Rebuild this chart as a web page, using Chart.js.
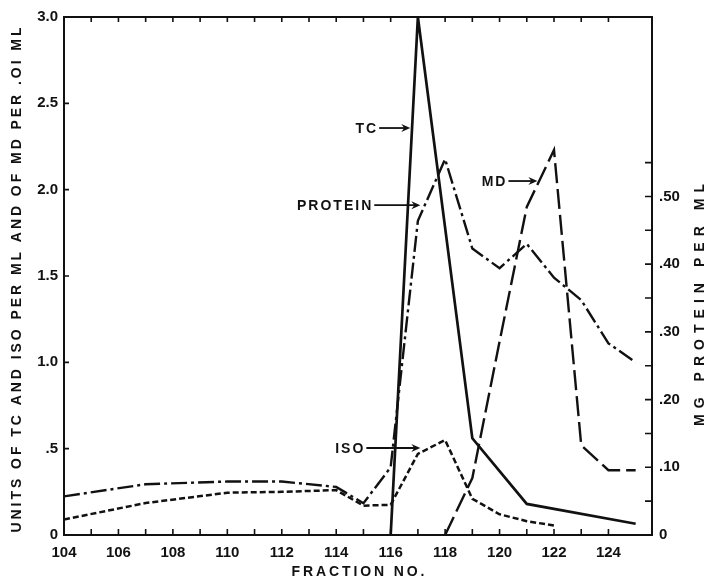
<!DOCTYPE html>
<html>
<head>
<meta charset="utf-8">
<script src="https://cdn.jsdelivr.net/npm/chart.js@4.4.0/dist/chart.umd.min.js"></script>
<style>
  html, body { margin: 0; padding: 0; background: #fff; }
  #wrap { width: 709px; height: 578px; }
</style>
</head>
<body>
<div id="wrap"><canvas id="fractionChart" width="709" height="578"></canvas></div>
<script>
// Values (fraction no. vs units / mg protein)
const tcFractions = [116, 117, 119, 121, 125]
const tcUnits = [0, 3.0, 0.56, 0.18, 0.065]

const isoFractions = [104, 107, 110, 112, 114, 115, 116, 117, 118, 119, 120, 121, 122]
const isoUnits = [0.09, 0.185, 0.245, 0.25, 0.26, 0.17, 0.175, 0.47, 0.55, 0.21, 0.12, 0.08, 0.055]

const mdFractions = [118, 119, 120, 121, 122, 123, 124, 125]
const mdUnits = [0, 0.33, 1.12, 1.9, 2.23, 0.52, 0.375, 0.375]

// protein is on the right hand axis (mg per ml)
const proteinFractions = [104, 107, 110, 112, 114, 115, 116, 117, 118, 119, 120, 121, 122, 123, 124, 125]
const proteinMg = [0.057, 0.075, 0.079, 0.079, 0.071, 0.047, 0.1, 0.464, 0.555, 0.423, 0.394, 0.43, 0.38, 0.347, 0.283, 0.255]

// tick labels
const xTickLabels = [104, 106, 108, 110, 112, 114, 116, 118, 120, 122, 124]
const leftTickValues = [0, 0.5, 1, 1.5, 2, 2.5, 3]
const leftTickLabels = ["0", ".5", "1.0", "1.5", "2.0", "2.5", "3.0"]
const rightTickValues = [0, 0.1, 0.2, 0.3, 0.4, 0.5]
const rightTickLabels = ["0", ".10", ".20", ".30", ".40", ".50"]

// labels with arrows pointing at the curves
const callouts = [
  { text: "TC", x: 115.54, y: 2.357, tip: 116.72 },
  { text: "PROTEIN", x: 115.36, y: 1.91, tip: 117.09 },
  { text: "MD", x: 120.29, y: 2.05, tip: 121.39 },
  { text: "ISO", x: 115.07, y: 0.504, tip: 117.09 },
]

const ink = "#111"
const fontFamily = "'Liberation Sans', Arial, sans-serif"

function toPoints(xs, ys) {
  return xs.map((x, i) => ({ x: x, y: ys[i] }))
}

function findLabel(values, labels, v) {
  const i = values.findIndex((t) => Math.abs(t - v) < 1e-6)
  return i >= 0 ? labels[i] : ""
}

// draw text stretched to a given width with letter spacing
function spacedText(ctx, text, cx, cy, width, angle) {
  ctx.save()
  ctx.translate(cx, cy)
  ctx.rotate(angle)
  ctx.letterSpacing = "0px"
  const w = ctx.measureText(text).width
  const gap = (width - w) / (text.length - 1)
  ctx.letterSpacing = gap + "px"
  ctx.textAlign = "left"
  ctx.textBaseline = "middle"
  ctx.fillText(text, -width / 2, 0)
  ctx.restore()
}

const framePlugin = {
  id: "frame",
  afterDraw(chart) {
    const { ctx, chartArea: a, scales } = chart
    ctx.save()
    ctx.strokeStyle = ink
    ctx.fillStyle = ink

    // box round the plot
    ctx.lineWidth = 2
    ctx.strokeRect(a.left, a.top, a.right - a.left, a.bottom - a.top)

    // inward tick marks
    ctx.lineWidth = 1.6
    ctx.beginPath()
    scales.x.ticks.forEach((t) => {
      if (!Number.isInteger(t.value)) return
      const px = scales.x.getPixelForValue(t.value)
      ctx.moveTo(px, a.bottom)
      ctx.lineTo(px, a.bottom - 6)
      ctx.moveTo(px, a.top)
      ctx.lineTo(px, a.top + 5)
    })
    scales.y.ticks.forEach((t) => {
      const py = scales.y.getPixelForValue(t.value)
      ctx.moveTo(a.left, py)
      ctx.lineTo(a.left + 5, py)
    })
    scales.y2.ticks.forEach((t) => {
      if (t.value > 0.551) return
      const py = scales.y2.getPixelForValue(t.value)
      ctx.moveTo(a.right, py)
      ctx.lineTo(a.right - 7, py)
    })
    ctx.stroke()

    // axis titles
    ctx.font = "bold 14px " + fontFamily
    spacedText(ctx, "UNITS OF TC AND ISO PER ML AND OF MD PER .OI ML", 17, 280, 505, -Math.PI / 2)
    spacedText(ctx, "MG PROTEIN PER ML", 700, 305, 242, -Math.PI / 2)
    spacedText(ctx, "FRACTION NO.", 358, 572, 133, 0)

    // callouts
    ctx.font = "bold 14px " + fontFamily
    ctx.letterSpacing = "2px"
    ctx.textAlign = "right"
    ctx.textBaseline = "middle"
    ctx.lineWidth = 1.8
    callouts.forEach((c) => {
      const tx = scales.x.getPixelForValue(c.x)
      const ty = scales.y.getPixelForValue(c.y)
      const tip = scales.x.getPixelForValue(c.tip)
      ctx.fillText(c.text, tx, ty + 1)
      ctx.beginPath()
      ctx.moveTo(tx + 1, ty)
      ctx.lineTo(tip - 3, ty)
      ctx.stroke()
      ctx.beginPath()
      ctx.moveTo(tip, ty)
      ctx.lineTo(tip - 9, ty - 4)
      ctx.lineTo(tip - 6, ty)
      ctx.lineTo(tip - 9, ty + 4)
      ctx.closePath()
      ctx.fill()
    })
    ctx.restore()
  },
}

function lineSet(label, points, dash, width, axis) {
  return {
    label: label,
    data: points,
    borderColor: ink,
    borderWidth: width,
    borderDash: dash,
    pointRadius: 0,
    tension: 0,
    fill: false,
    yAxisID: axis,
  }
}

const tickFont = { family: fontFamily, size: 15, weight: "bold" }

new Chart(document.getElementById("fractionChart"), {
  type: "line",
  data: {
    datasets: [
      lineSet("TC", toPoints(tcFractions, tcUnits), [], 2.7, "y"),
      lineSet("ISO", toPoints(isoFractions, isoUnits), [6, 3], 2.5, "y"),
      lineSet("MD", toPoints(mdFractions, mdUnits), [20, 6], 2.4, "y"),
      lineSet("PROTEIN", toPoints(proteinFractions, proteinMg), [16, 4, 3, 4], 2.4, "y2"),
    ],
  },
  options: {
    responsive: false,
    animation: false,
    layout: { padding: { top: 17, left: 0, right: 0, bottom: 0 } },
    plugins: {
      legend: { display: false },
      tooltip: { enabled: false },
    },
    scales: {
      x: {
        type: "linear",
        position: "bottom",
        min: 104,
        max: 125.6,
        grid: { display: false, drawTicks: false },
        border: { display: false },
        ticks: {
          stepSize: 1,
          autoSkip: false,
          maxRotation: 0,
          padding: 9,
          color: ink,
          font: tickFont,
          callback: (v) => (xTickLabels.includes(v) ? String(v) : ""),
        },
        afterFit: (s) => {
          s.height = 43
        },
      },
      y: {
        position: "left",
        min: 0,
        max: 3,
        grid: { display: false, drawTicks: false },
        border: { display: false },
        ticks: {
          stepSize: 0.5,
          padding: 6,
          color: ink,
          font: tickFont,
          callback: (v) => findLabel(leftTickValues, leftTickLabels, v),
        },
        afterFit: (s) => {
          s.width = 64
        },
      },
      y2: {
        position: "right",
        min: 0,
        max: 0.765,
        grid: { display: false, drawTicks: false },
        border: { display: false },
        ticks: {
          stepSize: 0.05,
          autoSkip: false,
          padding: 7,
          color: ink,
          font: tickFont,
          callback: (v) => findLabel(rightTickValues, rightTickLabels, v),
        },
        afterFit: (s) => {
          s.width = 57
        },
      },
    },
  },
  plugins: [framePlugin],
})
</script>
</body>
</html>
